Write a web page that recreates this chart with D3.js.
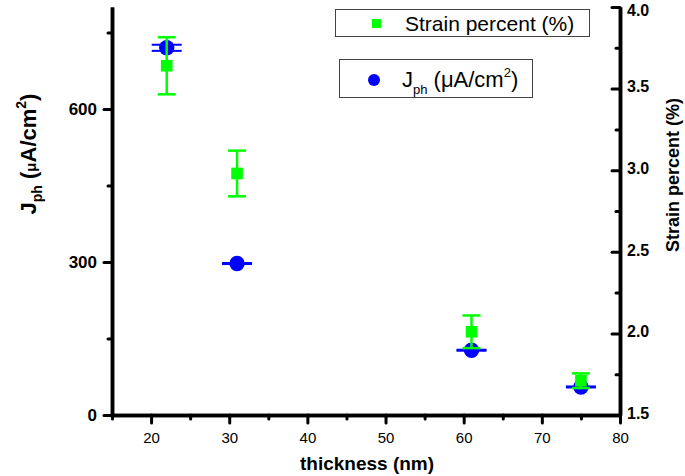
<!DOCTYPE html>
<html><head><meta charset="utf-8">
<script src="https://cdn.jsdelivr.net/npm/d3@7"></script>
<style>body{margin:0;background:#fff}svg{display:block}text{font-family:Arial,"Liberation Sans",sans-serif}</style>
</head><body><svg id="c" width="685" height="476"></svg>
<script>
const thickness=[22,31,61,75];
const jph=[720,297,127,55];
const jphErr=[6,1,1,1];
const strain=[3.64,2.98,2.01,1.71];
const strainErr=[0.175,0.14,0.1,0.045];
const xMajor=[20,30,40,50,60,70,80];
const xMinor=[15,25,35,45,55,65,75];
const yLeftMajor=[0,300,600];
const yLeftMinor=[150,450,750];
const yRightMajor=[1.5,2.0,2.5,3.0,3.5,4.0];
const yRightMinor=[1.75,2.25,2.75,3.25,3.75];

const L=112,R=620,T=7,B=415;
const svg=d3.select("#c");
const x=d3.scaleLinear().domain([15,80]).range([L,R]);
const yL=d3.scaleLinear().domain([0,800]).range([B,T]);
const yR=d3.scaleLinear().domain([1.5,4]).range([B,T]);

function style(g,fs,fw){
  g.select(".domain").attr("stroke","#000").attr("stroke-width",3.5);
  g.selectAll(".tick line").attr("stroke","#000").attr("stroke-width",3).attr("stroke-linecap","round");
  g.selectAll(".tick text").attr("fill","#000").style("font-size",fs+"px").style("font-weight",fw).style("font-family","Arial, 'Liberation Sans', sans-serif");
}
const gxm=svg.append("g").attr("transform",`translate(0,${B})`).call(d3.axisBottom(x).tickValues(xMinor).tickSize(4).tickSizeOuter(0).tickFormat(""));
style(gxm,15,"normal");
const gx=svg.append("g").attr("transform",`translate(0,${B})`).call(d3.axisBottom(x).tickValues(xMajor).tickSize(8).tickPadding(9).tickSizeOuter(0).tickFormat(d3.format("d")));
style(gx,15,"normal");

const gylm=svg.append("g").attr("transform",`translate(${L},0)`).call(d3.axisLeft(yL).tickValues(yLeftMinor).tickSize(4).tickSizeOuter(0).tickFormat(""));
style(gylm,17,"bold");
const gyl=svg.append("g").attr("transform",`translate(${L},0)`).call(d3.axisLeft(yL).tickValues(yLeftMajor).tickSize(8).tickPadding(7).tickSizeOuter(0).tickFormat(d3.format("d")));
style(gyl,17,"bold");

const gyrm=svg.append("g").attr("transform",`translate(${R},0)`).call(d3.axisRight(yR).tickValues(yRightMinor).tickSize(-4).tickSizeOuter(0).tickFormat(""));
style(gyrm,16,"bold");
const gyr=svg.append("g").attr("transform",`translate(${R},0)`).call(d3.axisRight(yR).tickValues(yRightMajor).tickSize(-8).tickPadding(7).tickSizeOuter(0).tickFormat(d3.format(".1f")));
style(gyr,16,"bold");
gyr.selectAll(".tick text").attr("dy",d=>d===4?"0.55em":"0.2em");

svg.append("text").attr("x",367).attr("y",470).attr("text-anchor","middle")
  .style("font-size","19px").style("font-weight","bold").text("thickness (nm)");
const yt=svg.append("text").attr("transform","translate(36,154) rotate(-90)").attr("text-anchor","middle")
  .style("font-size","22px").style("font-weight","bold");
yt.append("tspan").text("J");
yt.append("tspan").attr("dy",6).style("font-size","14px").text("ph");
yt.append("tspan").attr("dy",-6).text(" (");
yt.append("tspan").style("font-size","15px").text("μ");
yt.append("tspan").text("A/cm");
yt.append("tspan").attr("dy",-10).style("font-size","14px").text("2");
yt.append("tspan").attr("dy",10).text(")");
svg.append("text").attr("transform","translate(679,175) rotate(-90)").attr("text-anchor","middle")
  .style("font-size","18px").style("font-weight","bold").text("Strain percent (%)");

const green="#00ff00", blue="#0000ff";
const pts=thickness.map((t,i)=>({t,j:jph[i],je:jphErr[i],s:strain[i],se:strainErr[i]}));
const gB=svg.append("g");
pts.forEach(p=>{
  const cx=x(p.t);
  gB.append("line").attr("x1",cx).attr("x2",cx).attr("y1",yL(p.j-p.je)).attr("y2",yL(p.j+p.je)).attr("stroke",blue).attr("stroke-width",2);
  [p.j-p.je,p.j+p.je].forEach(v=>gB.append("line").attr("x1",cx-15).attr("x2",cx+15).attr("y1",yL(v)).attr("y2",yL(v)).attr("stroke",blue).attr("stroke-width",2));
});
gB.selectAll("circle").data(pts).join("circle").attr("cx",d=>x(d.t)).attr("cy",d=>yL(d.j)).attr("r",7.7).attr("fill",blue);
const gG=svg.append("g");
pts.forEach(p=>{
  const cx=x(p.t);
  gG.append("line").attr("x1",cx).attr("x2",cx).attr("y1",yR(p.s-p.se)).attr("y2",yR(p.s+p.se)).attr("stroke",green).attr("stroke-width",2.5);
  [p.s-p.se,p.s+p.se].forEach(v=>gG.append("line").attr("x1",cx-9).attr("x2",cx+9).attr("y1",yR(v)).attr("y2",yR(v)).attr("stroke",green).attr("stroke-width",2.5));
});
gG.selectAll("rect").data(pts).join("rect").attr("x",d=>x(d.t)-5.8).attr("y",d=>yR(d.s)-5.8).attr("width",11.6).attr("height",11.6).attr("fill",green);

svg.append("rect").attr("x",335.5).attr("y",9.5).attr("width",254).attr("height",27).attr("fill","#fff").attr("stroke","#444").attr("stroke-width",1);
svg.append("rect").attr("x",372).attr("y",19).attr("width",9).attr("height",9).attr("fill",green);
svg.append("text").attr("x",405).attr("y",30.5).style("font-size","21px").text("Strain percent (%)");
svg.append("rect").attr("x",339.5).attr("y",59.5).attr("width",193).attr("height",38).attr("fill","#fff").attr("stroke","#444").attr("stroke-width",1);
svg.append("circle").attr("cx",374).attr("cy",80).attr("r",6).attr("fill",blue);
const lt=svg.append("text").attr("x",402).attr("y",87).style("font-size","22px");
lt.append("tspan").text("J");
lt.append("tspan").attr("dy",7).style("font-size","13px").text("ph");
lt.append("tspan").attr("dy",-7).text(" (μA/cm");
lt.append("tspan").attr("dy",-10).style("font-size","13px").text("2");
lt.append("tspan").attr("dy",10).text(")");
</script></body></html>
